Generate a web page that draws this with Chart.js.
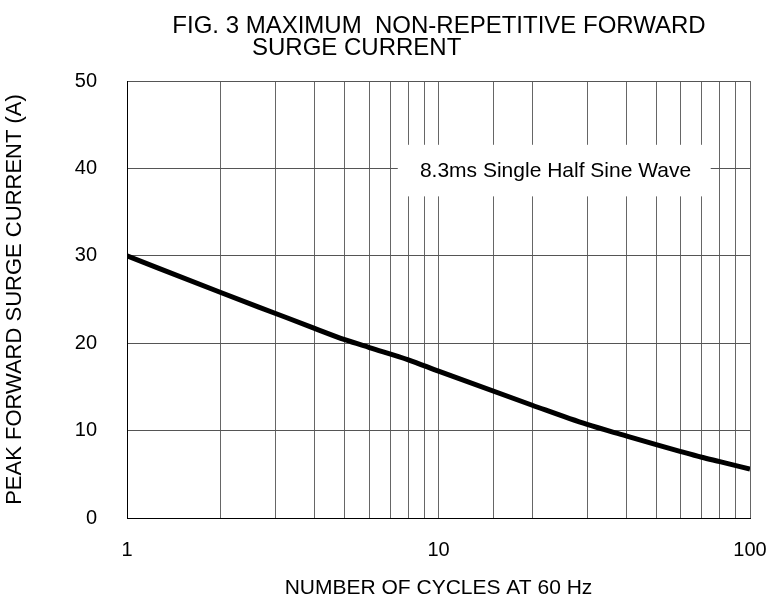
<!DOCTYPE html>
<html lang="en">
<head>
  <meta charset="UTF-8">
  <title>Fig. 3 Maximum Non-Repetitive Forward Surge Current</title>
  <script src="https://cdn.jsdelivr.net/npm/chart.js"></script>
  <style>
    body {
      margin: 0;
      background-color: #ffffff;
    }
    #wrap {
      width: 766px;
      height: 601px;
    }
  </style>
</head>
<body>
  <div id="wrap"><canvas id="surgeChart"></canvas></div>

  <script>
    // values
    const cycles = [1, 2, 3, 4, 5, 6, 8, 10, 20, 30, 40, 50, 60, 70, 80, 100];
    const surgeCurrent = [30, 25.8, 23.4, 21.7, 20.4, 19.5, 18.1, 16.8, 12.9, 10.7, 9.4, 8.4, 7.6, 6.95, 6.45, 5.6];
    const xLabels = [1, 10, 100];
    const titleLines = ['FIG. 3 MAXIMUM  NON-REPETITIVE FORWARD', 'SURGE CURRENT'];
    const noteText = '8.3ms Single Half Sine Wave';

    const FONT = "'Liberation Sans', Arial, sans-serif";

    // title drawn by hand: second line is not centred in the original
    const titlePlugin = {
      id: 'figTitle',
      afterDraw(chart) {
        const ctx = chart.ctx;
        ctx.save();
        ctx.fillStyle = '#000';
        ctx.font = '24px ' + FONT;
        ctx.textBaseline = 'alphabetic';
        ctx.textAlign = 'center';
        ctx.fillText(titleLines[0], 439, 33);
        ctx.textAlign = 'left';
        ctx.fillText(titleLines[1], 252, 55);
        ctx.restore();
      }
    };

    // white box with the test condition, covers the grid behind it
    const notePlugin = {
      id: 'noteBox',
      beforeDatasetsDraw(chart) {
        const x = chart.scales.x, y = chart.scales.y, ctx = chart.ctx;
        const left = x.getPixelForValue(7.4), right = x.getPixelForValue(74.8);
        const top = y.getPixelForValue(42.7), bottom = y.getPixelForValue(36.8);
        ctx.save();
        ctx.fillStyle = '#fff';
        ctx.fillRect(left, top, right - left, bottom - top);
        ctx.fillStyle = '#000';
        ctx.font = '21px ' + FONT;
        ctx.textAlign = 'center';
        ctx.textBaseline = 'alphabetic';
        ctx.fillText(noteText, 555.5, y.getPixelForValue(39.0));
        ctx.restore();
      }
    };

    new Chart(document.getElementById('surgeChart'), {
      type: 'line',
      data: {
        datasets: [{
          data: cycles.map((c, i) => ({ x: c, y: surgeCurrent[i] })),
          borderColor: '#000',
          borderWidth: 5,
          pointRadius: 0,
          cubicInterpolationMode: 'monotone',
          fill: false
        }]
      },
      options: {
        responsive: true,
        maintainAspectRatio: false,
        animation: false,
        layout: {
          padding: { top: 81, right: 0, left: 0, bottom: 0 }
        },
        plugins: {
          legend: { display: false },
          tooltip: { enabled: false }
        },
        scales: {
          x: {
            type: 'logarithmic',
            min: 1,
            max: 100,
            afterFit(scale) {
              scale.height = 83;
              scale.paddingRight = 16;
            },
            border: { color: '#000', width: 1 },
            grid: { color: '#666', lineWidth: 1, drawTicks: false },
            ticks: {
              autoSkip: false,
              maxRotation: 0,
              padding: 20,
              color: '#000',
              font: { family: FONT, size: 20 },
              callback: (v) => xLabels.includes(v) ? String(v) : ''
            },
            title: {
              display: true,
              text: 'NUMBER OF CYCLES AT 60 Hz',
              color: '#000',
              font: { family: FONT, size: 21 },
              padding: { top: 12, bottom: 0 }
            }
          },
          y: {
            min: 0,
            max: 50,
            afterFit(scale) { scale.width = 127; },
            border: { color: '#000', width: 1 },
            grid: { color: '#555', lineWidth: 1, drawTicks: false },
            ticks: {
              stepSize: 10,
              padding: 30,
              color: '#000',
              font: { family: FONT, size: 20 }
            },
            title: {
              display: true,
              text: 'PEAK FORWARD SURGE CURRENT (A)',
              color: '#000',
              font: { family: FONT, size: 22 },
              padding: { top: 2, bottom: 0 }
            }
          }
        }
      },
      plugins: [titlePlugin, notePlugin]
    });
  </script>
</body>
</html>
